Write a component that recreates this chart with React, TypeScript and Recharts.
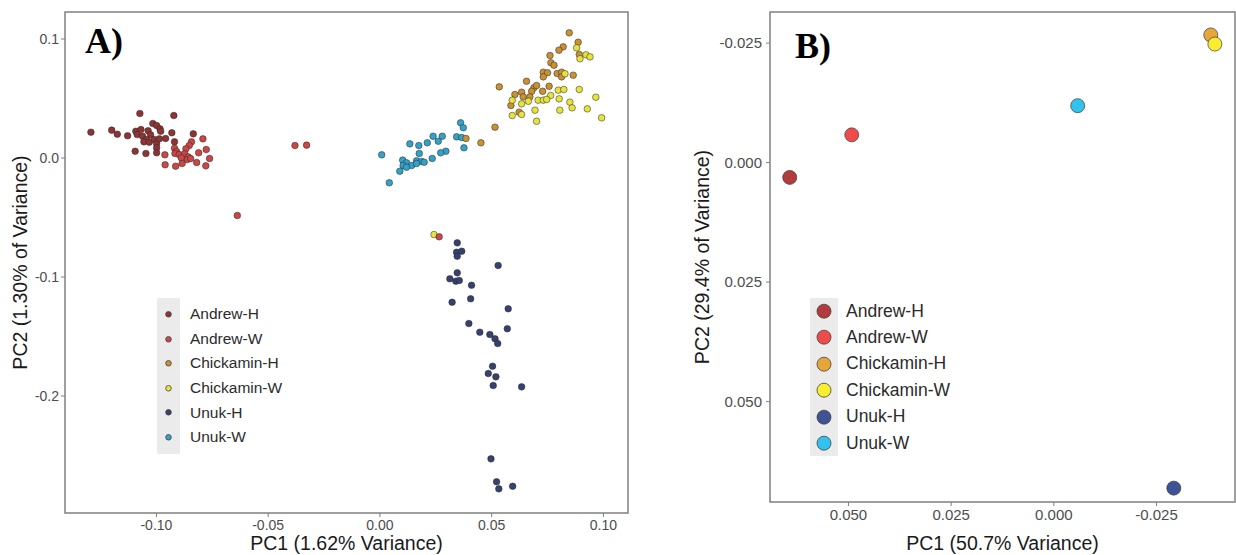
import React from 'react';
import { ScatterChart, Scatter, XAxis, YAxis, ReferenceArea, Legend } from 'recharts';

const FONT = '"Liberation Sans", Arial, Helvetica, sans-serif';

const groups = ['Andrew-H', 'Andrew-W', 'Chickamin-H', 'Chickamin-W', 'Unuk-H', 'Unuk-W'];

// panel A: individual samples, [PC1, PC2]
const andrewH: [number, number][] = [
  [-0.1074, 0.0374], [-0.0922, 0.0357], [-0.1016, 0.029], [-0.0999, 0.0273], [-0.0984, 0.0245],
  [-0.0981, 0.0225], [-0.1293, 0.0217], [-0.12, 0.0234], [-0.1175, 0.02], [-0.1129, 0.0187],
  [-0.1092, 0.0225], [-0.1069, 0.0239], [-0.1086, 0.0197], [-0.1062, 0.0183], [-0.1037, 0.0229],
  [-0.1026, 0.0195], [-0.1044, 0.0155], [-0.1056, 0.0136], [-0.1032, 0.0133], [-0.101, 0.0155],
  [-0.0999, 0.0122], [-0.0987, 0.0161], [-0.0959, 0.0164], [-0.0931, 0.0212], [-0.0835, 0.0203],
  [-0.0999, 0.0086], [-0.0999, 0.0044], [-0.1047, 0.0038], [-0.1095, 0.0057], [-0.0919, 0.0136],
];
const andrewW: [number, number][] = [
  [-0.0792, 0.0161], [-0.0843, 0.0136], [-0.0853, 0.0105], [-0.0868, 0.0077], [-0.0919, 0.0082],
  [-0.091, 0.0055], [-0.0917, 0.0038], [-0.0898, 0.0029], [-0.0874, 0.0035], [-0.0858, 0.001],
  [-0.0862, -0.0013], [-0.0847, -0.0004], [-0.0889, 0.0002], [-0.0811, 0.0044], [-0.0777, 0.0071],
  [-0.0762, -0.0004], [-0.082, -0.0038], [-0.0779, -0.0066], [-0.0885, -0.0046], [-0.0914, -0.0069],
  [-0.0961, -0.0057], [-0.0962, 0.0027], [-0.0638, -0.0483], [-0.038, 0.0105], [-0.0328, 0.0108],
  [0.0265, -0.0662],
];
const chickaminH: [number, number][] = [
  [0.0847, 0.1052], [0.0887, 0.0973], [0.082, 0.0934], [0.0801, 0.0906], [0.0761, 0.0861],
  [0.0892, 0.087], [0.0765, 0.08], [0.0779, 0.078], [0.0731, 0.0721], [0.075, 0.0716],
  [0.0731, 0.0682], [0.0793, 0.071], [0.0813, 0.0721], [0.0813, 0.0682], [0.0865, 0.0696],
  [0.0656, 0.0645], [0.0534, 0.0598], [0.0689, 0.059], [0.0701, 0.0609], [0.0757, 0.0603],
  [0.0728, 0.0561], [0.0679, 0.0561], [0.0634, 0.0553], [0.0604, 0.0534], [0.0641, 0.0514],
  [0.0671, 0.0514], [0.0586, 0.0441], [0.0623, 0.0385], [0.0515, 0.0259], [0.0452, 0.0128],
  [0.0385, 0.0164],
];
const chickaminW: [number, number][] = [
  [0.088, 0.0926], [0.0895, 0.0834], [0.0922, 0.0867], [0.094, 0.085], [0.0828, 0.0708],
  [0.0798, 0.057], [0.0823, 0.0576], [0.0892, 0.0576], [0.0764, 0.0525], [0.0592, 0.0486],
  [0.0664, 0.0477], [0.0708, 0.0486], [0.0731, 0.0486], [0.0746, 0.0492], [0.0802, 0.0497],
  [0.0966, 0.0511], [0.0634, 0.0455], [0.085, 0.0469], [0.086, 0.0422], [0.0805, 0.0402],
  [0.0928, 0.0413], [0.0694, 0.0402], [0.0634, 0.0366], [0.0592, 0.0357], [0.0701, 0.0309],
  [0.0992, 0.0338], [0.0242, -0.0643],
];
const unukH: [number, number][] = [
  [0.0346, -0.0713], [0.0343, -0.0792], [0.0366, -0.0783], [0.0346, -0.0825], [0.0529, -0.0903],
  [0.0346, -0.0965], [0.0313, -0.1015], [0.034, -0.1035], [0.0355, -0.1029], [0.041, -0.1069],
  [0.0406, -0.1183], [0.0323, -0.1212], [0.0574, -0.1267], [0.0398, -0.1391], [0.0447, -0.1464],
  [0.0492, -0.1483], [0.057, -0.1435], [0.0515, -0.1519], [0.0527, -0.1559], [0.0504, -0.175],
  [0.0485, -0.1811], [0.0519, -0.1839], [0.0507, -0.1912], [0.0634, -0.1923], [0.0497, -0.2528],
  [0.0522, -0.2721], [0.0532, -0.278], [0.0594, -0.2758],
];
const unukW: [number, number][] = [
  [0.0361, 0.0296], [0.0373, 0.0254], [0.0238, 0.0183], [0.0279, 0.0183], [0.0261, 0.0141],
  [0.0343, 0.0178], [0.0366, 0.0172], [0.0212, 0.0128], [0.0134, 0.0119], [0.0174, 0.0105],
  [0.0376, 0.0086], [0.0295, 0.0057], [0.0272, 0.0044], [0.0176, 0.0038], [0.0008, 0.0027],
  [0.0234, -0.0004], [0.0102, -0.0018], [0.0119, -0.004], [0.0164, -0.0024], [0.0187, -0.0029],
  [0.0198, -0.0035], [0.0104, -0.0063], [0.0142, -0.0063], [0.0119, -0.0077], [0.0089, -0.0111],
  [0.0042, -0.0208], [0.0164, -0.0046],
];

// panel B: group centroids, [PC1, PC2]
const meanAndrewH: [number, number][] = [[0.0643, 0.0031]];
const meanAndrewW: [number, number][] = [[0.0492, -0.0058]];
const meanChickaminH: [number, number][] = [[-0.0382, -0.0267]];
const meanChickaminW: [number, number][] = [[-0.0392, -0.0248]];
const meanUnukH: [number, number][] = [[-0.0292, 0.0681]];
const meanUnukW: [number, number][] = [[-0.0058, -0.0119]];

const xTicksA = [-0.1, -0.05, 0, 0.05, 0.1];
const yTicksA = [-0.2, -0.1, 0, 0.1];
const xTicksB = [0.05, 0.025, 0, -0.025];
const yTicksB = [-0.025, 0, 0.025, 0.05];

const xDomA: [number, number] = [-0.1409, 0.111];
const yDomA: [number, number] = [-0.2983, 0.1227];
const xDomB: [number, number] = [-0.0441, 0.0691];
const yDomB: [number, number] = [-0.0315, 0.071];

const colorsA = ['#8e3434', '#cc4646', '#c99034', '#e6e43a', '#36416f', '#33a2c9'];
const colorsB = ['#b23b3b', '#f04b4b', '#e8a53a', '#f8ee2e', '#3e5294', '#33c2ee'];

const toPts = (arr: [number, number][]) => arr.map(([x, y]) => ({ x, y }));

const seriesA = [andrewH, andrewW, chickaminH, chickaminW, unukH, unukW];
const seriesB = [meanAndrewH, meanAndrewW, meanChickaminH, meanChickaminW, meanUnukH, meanUnukW];
// draw order so overlaps look like the original
const drawOrder = [5, 4, 2, 3, 0, 1];

const dot = (r: number, fill: string, stroke: string, sw: number) => (props: any) => (
  <circle cx={props.cx} cy={props.cy} r={r} fill={fill} stroke={stroke} strokeWidth={sw} />
);

const legendContent = (colors: string[], r: number, rowH: number, keyW: number, fontSize: number, gap: number, padTop: number) => () => (
  <div style={{ position: 'relative', fontFamily: FONT }}>
    <div style={{ position: 'absolute', left: 0, top: 0, width: keyW, height: padTop * 2 + rowH * 6, background: '#ebebeb' }} />
    {groups.map((g, i) => (
      <div key={g} style={{ position: 'absolute', left: 0, top: padTop + i * rowH, height: rowH, display: 'flex', alignItems: 'center', whiteSpace: 'nowrap' }}>
        <svg width={keyW} height={rowH} style={{ display: 'block' }}>
          <circle cx={keyW / 2} cy={rowH / 2} r={r} fill={colors[i]} stroke="#444" strokeWidth={0.8} />
        </svg>
        <span style={{ marginLeft: gap, fontSize, color: '#2b2b2b' }}>{g}</span>
      </div>
    ))}
  </div>
);

const tickStyle = (fontSize: number) => ({ fontSize, fill: '#4d4d4d', fontFamily: FONT });
const titleStyle = { fontSize: 19.5, fill: '#1a1a1a', fontFamily: FONT, textAnchor: 'middle' as const };

function PanelA() {
  return (
    <div style={{ position: 'absolute', left: 0, top: 0, width: 640, height: 555 }}>
      <ScatterChart width={640} height={555} margin={{ top: 12, right: 12, bottom: 0, left: 0 }}>
        <XAxis
          type="number" dataKey="x" domain={xDomA} ticks={xTicksA} allowDataOverflow height={42}
          tickFormatter={(v: number) => v.toFixed(2)} tick={tickStyle(14)} tickSize={4} tickMargin={3}
          axisLine={false} tickLine={{ stroke: '#7f7f7f' }}
          label={{ value: 'PC1 (1.62% Variance)', position: 'insideBottom', offset: 5, style: titleStyle }}
        />
        <YAxis
          type="number" dataKey="y" domain={yDomA} ticks={yTicksA} allowDataOverflow width={65}
          tickFormatter={(v: number) => v.toFixed(1)} tick={tickStyle(14)} tickSize={4} tickMargin={2}
          axisLine={false} tickLine={{ stroke: '#7f7f7f' }}
          label={{ value: 'PC2 (1.30% of Variance)', angle: -90, position: 'insideLeft', offset: 20, style: titleStyle }}
        />
        <ReferenceArea x1={xDomA[0]} x2={xDomA[1]} y1={yDomA[0]} y2={yDomA[1]} fill="none" fillOpacity={0} stroke="#808080" strokeWidth={1.5} />
        {drawOrder.map((i) => (
          <Scatter key={groups[i]} name={groups[i]} data={toPts(seriesA[i])} isAnimationActive={false}
            shape={dot(3.3, colorsA[i], 'rgba(40,40,40,0.75)', 0.7)} />
        ))}
        <Legend layout="vertical" align="center" verticalAlign="middle"
          wrapperStyle={{ left: 157, top: 298, width: 140 }}
          content={legendContent(colorsA, 2.8, 24.6, 23, 15.5, 10, 4)} />
      </ScatterChart>
      <div style={{ position: 'absolute', left: 85, top: 23, fontFamily: '"Liberation Serif", "Times New Roman", serif', fontWeight: 'bold', fontSize: 36, lineHeight: '36px', color: '#000' }}>A)</div>
    </div>
  );
}

function PanelB() {
  return (
    <div style={{ position: 'absolute', left: 690, top: 0, width: 546, height: 555 }}>
      <ScatterChart width={546} height={555} margin={{ top: 12, right: 1, bottom: 0, left: 0 }}>
        <XAxis
          type="number" dataKey="x" domain={xDomB} ticks={xTicksB} allowDataOverflow reversed height={53}
          tickFormatter={(v: number) => v.toFixed(3)} tick={tickStyle(15)} tickSize={4} tickMargin={3}
          axisLine={false} tickLine={{ stroke: '#7f7f7f' }}
          label={{ value: 'PC1 (50.7% Variance)', position: 'insideBottom', offset: 5, style: titleStyle }}
        />
        <YAxis
          type="number" dataKey="y" domain={yDomB} ticks={yTicksB} allowDataOverflow reversed width={80}
          tickFormatter={(v: number) => v.toFixed(3)} tick={tickStyle(15)} tickSize={4} tickMargin={4}
          axisLine={false} tickLine={{ stroke: '#7f7f7f' }}
          label={{ value: 'PC2 (29.4% of Variance)', angle: -90, position: 'insideLeft', offset: 12, style: titleStyle }}
        />
        <ReferenceArea x1={xDomB[0]} x2={xDomB[1]} y1={yDomB[0]} y2={yDomB[1]} fill="none" fillOpacity={0} stroke="#808080" strokeWidth={1.5} />
        {[0, 1, 4, 5, 2, 3].map((i) => (
          <Scatter key={groups[i]} name={groups[i]} data={toPts(seriesB[i])} isAnimationActive={false}
            shape={dot(7, colorsB[i], 'rgba(60,60,60,0.8)', 0.9)} />
        ))}
        <Legend layout="vertical" align="center" verticalAlign="middle"
          wrapperStyle={{ left: 120, top: 298, width: 160 }}
          content={legendContent(colorsB, 7, 26.4, 28, 17.5, 8, 0)} />
      </ScatterChart>
      <div style={{ position: 'absolute', left: 105, top: 28, fontFamily: '"Liberation Serif", "Times New Roman", serif', fontWeight: 'bold', fontSize: 36, lineHeight: '36px', color: '#000' }}>B)</div>
    </div>
  );
}

export default function App() {
  return (
    <div style={{ position: 'absolute', left: 0, top: 0, width: 1236, height: 555, background: '#fff', overflow: 'hidden', fontFamily: FONT }}>
      <PanelA />
      <PanelB />
    </div>
  );
}
